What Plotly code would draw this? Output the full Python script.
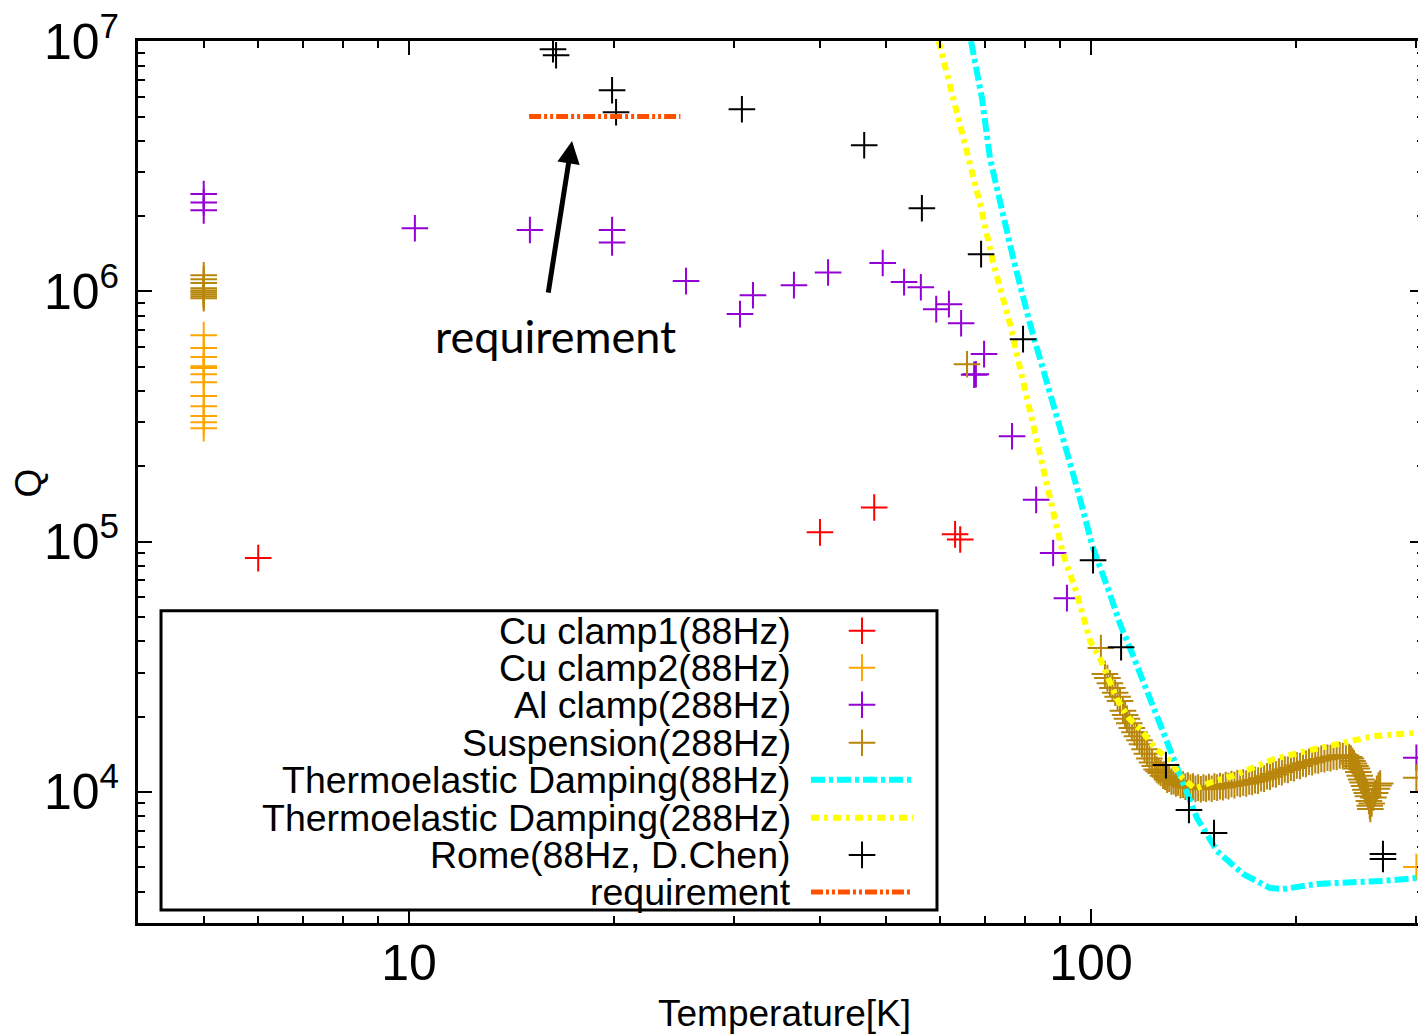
import plotly.graph_objects as go

# ---------------- data ----------------
cu1_T = [6.01, 40.05, 48.1, 63.2, 64.3]
cu1_Q = [8.60e4, 1.09e5, 1.37e5, 1.07e5, 1.02e5]

cu2_T = [5, 5, 5, 5, 5, 5, 5, 5, 5, 5, 5, 5, 300]
cu2_Q = [6.69e5, 5.94e5, 5.47e5, 5.03e5, 4.94e5, 4.67e5, 4.34e5, 3.82e5, 3.48e5,
         3.18e5, 3.00e5, 2.84e5, 5.01e3]

al_T = [5, 5, 5, 10.2, 15.04, 19.85, 19.85, 25.48, 30.57, 31.94, 36.68, 41.16, 49.5,
        53.2, 56.3, 59.3, 61.9, 64.5, 69.7, 67.8, 67.4, 76.6, 83.1, 88.0, 92.2, 300]
al_Q = [2.45e6, 2.27e6, 2.11e6, 1.79e6, 1.76e6, 1.76e6, 1.57e6, 1.10e6, 8.12e5, 9.66e5,
        1.06e6, 1.19e6, 1.30e6, 1.09e6, 1.04e6, 8.50e5, 8.90e5, 7.47e5, 5.62e5, 4.67e5,
        4.65e5, 2.64e5, 1.47e5, 9.01e4, 5.95e4, 1.37e4]

susp_T = [5, 5, 5, 5, 5, 5, 5, 5, 5, 65.8,
          103.4, 104.8, 105.7, 106.6, 107.5, 108.5, 109.4, 110.3, 111.4, 112.2,
          112.9, 113.8, 114.8, 115.8, 116.8, 117.8, 118.8, 119.8, 120.8, 121.8,
          122.9, 124.0, 124.8, 125.6, 126.5, 127.5, 128.4, 129.3, 130.2, 131.2,
          132.2, 133.2, 134.2, 135.3, 136.4, 137.5, 138.7, 139.9, 141.1, 142.3,
          143.6, 144.9, 146.2, 147.5, 148.9, 150.3, 151.7, 153.1, 154.6, 156.1,
          157.6, 159.1, 160.7, 162.3, 163.9, 165.5, 167.2, 168.9, 170.6, 172.3,
          174.0, 175.8, 177.6, 179.4, 181.2, 183.0, 184.8, 186.7, 188.6, 190.5,
          192.4, 194.4, 196.4, 198.4, 200.4, 202.5, 204.6, 206.7, 208.8, 211.0,
          213.2, 215.4, 217.6, 219.9, 222.2, 224.5, 226.8, 229.2, 231.6, 234.0,
          236.5, 239.0, 240.5, 241.8, 243.0, 244.2, 245.4, 246.6, 247.8, 249.0,
          250.2, 251.4, 252.6, 253.8, 254.8, 255.6, 256.3, 256.8, 258.0, 259.5,
          261.0, 262.5, 264.0, 265.5, 300]
susp_Q = [1.16e6, 1.12e6, 1.08e6, 1.03e6, 1.01e6, 9.94e5, 9.75e5, 9.57e5, 9.40e5, 5.12e5,
          37600, 29600, 28500, 27200, 26000, 24900, 24000, 23100, 21100, 20300,
          19600, 18800, 18000, 17300, 16700, 16100, 15500, 14800, 14200, 13600,
          13100, 12700, 12300, 12100, 11900, 11600, 11500, 11200, 11300, 11000,
          11050, 10800, 10900, 10650, 10700, 10500, 10600, 10400, 10500, 10300,
          10400, 10250, 10400, 10300, 10450, 10300, 10500, 10400, 10550, 10450,
          10650, 10550, 10750, 10650, 10850, 10750, 10900, 10800, 11000, 10950,
          11150, 11100, 11350, 11300, 11550, 11500, 11800, 11750, 12050, 12000,
          12300, 12250, 12500, 12450, 12750, 12700, 13000, 12950, 13200, 13150,
          13400, 13350, 13550, 13500, 13700, 13650, 13850, 13800, 14000, 13900,
          14000, 13800, 13600, 13300, 13000, 12700, 12400, 12000, 11600, 11200,
          10900, 10550, 10200, 9900, 9600, 9200, 8800, 8550, 9000, 9500,
          9900, 10300, 10600, 10800, 11400]

ted88_T = [66.7, 69.2, 71.1, 73.6, 76.9, 81.4, 85.1, 90.1, 95.4, 100.7, 106.6, 110.3,
           114.1, 120.8, 126.3, 130.6, 135.1, 139.7, 143.0, 153.0, 167.1, 183.0, 191.2,
           214.5, 239.8, 268.0, 300.0]
ted88_Q = [1.0e7, 5.92e6, 3.41e6, 2.23e6, 1.36e6, 7.40e5, 4.94e5, 2.84e5, 1.64e5, 9.43e4,
           6.18e4, 4.69e4, 3.76e4, 2.53e4, 1.87e4, 1.50e4, 1.18e4, 9.20e3, 7.87e3, 5.81e3,
           4.70e3, 4.13e3, 4.09e3, 4.29e3, 4.33e3, 4.41e3, 4.53e3]

ted288_T = [59.8, 62.8, 65.8, 68.8, 71.8, 76.1, 78.7, 83.3, 87.1, 91.0, 95.4, 99.7, 103.5,
            109.2, 113.7, 118.8, 124.1, 130.6, 136.0, 142.1, 151.0, 161.5, 172.8, 184.9,
            207.4, 231.8, 259.2, 296.6, 310.0]
ted288_Q = [1.0e7, 5.92e6, 3.41e6, 2.23e6, 1.32e6, 7.40e5, 4.94e5, 2.52e5, 1.45e5, 8.92e4,
            6.18e4, 4.01e4, 3.33e4, 2.35e4, 1.97e4, 1.75e4, 1.50e4, 1.33e4, 1.14e4, 1.03e4,
            1.10e4, 1.16e4, 1.25e4, 1.35e4, 1.46e4, 1.57e4, 1.67e4, 1.72e4, 1.75e4]

rome_T = [16.26, 16.43, 19.85, 20.12, 30.77, 46.5, 56.5, 69.0, 79.5, 100.7, 110.7, 128.8,
          139.2, 151.5, 268.0, 268.0]
rome_Q = [9.29e6, 8.79e6, 6.37e6, 5.20e6, 5.35e6, 3.84e6, 2.15e6, 1.41e6, 6.45e5, 8.44e4,
          3.79e4, 1.28e4, 8.47e3, 6.85e3, 5.65e3, 5.40e3]

req_T = [15.0, 25.0]
req_Q = [5.0e6, 5.0e6]

x_ticks = [10, 100]
x_ticktext = ["10", "100"]
y_ticks = [1e4, 1e5, 1e6, 1e7]
y_ticktext = ["10<sup>4</sup>", "10<sup>5</sup>", "10<sup>6</sup>", "10<sup>7</sup>"]
x_minor = [5, 6, 7, 8, 9, 20, 30, 40, 50, 60, 70, 80, 90, 200, 300]
y_minor = [3e3, 4e3, 5e3, 6e3, 7e3, 8e3, 9e3,
           2e4, 3e4, 4e4, 5e4, 6e4, 7e4, 8e4, 9e4,
           2e5, 3e5, 4e5, 5e5, 6e5, 7e5, 8e5, 9e5,
           2e6, 3e6, 4e6, 5e6, 6e6, 7e6, 8e6, 9e6]

X_RANGE = [0.6026, 2.4883]
Y_RANGE = [3.4762, 7.001]

# ---------------- styles ----------------
RED = "#ff0000"
ORANGE = "#ffa500"
PURPLE = "#9400d3"
BROWN = "#b8860b"
CYAN = "#00ffff"
YELLOW = "#ffff00"
REQ = "#ff5000"
FONT = "Liberation Sans, Arial, sans-serif"
MSIZE = 19
CYAN_DASH = "14px,4px,4px,4px"
YELLOW_DASH = "8px,5px,4px,5px"
REQ_DASH = "12px,3px,3px,3px,3px,3px"

fig = go.Figure()


def markers(x, y, color, name, xa="x", ya="y"):
    fig.add_trace(go.Scatter(
        x=x, y=y, mode="markers", name=name, showlegend=False, xaxis=xa, yaxis=ya,
        marker=dict(symbol="cross-thin", size=MSIZE, color=color,
                    line=dict(color=color, width=2))))


def line(x, y, color, dash, width, name, xa="x", ya="y"):
    fig.add_trace(go.Scatter(
        x=x, y=y, mode="lines", name=name, showlegend=False, xaxis=xa, yaxis=ya,
        line=dict(color=color, dash=dash, width=width)))


markers(cu1_T, cu1_Q, RED, "Cu clamp1(88Hz)")
markers(cu2_T, cu2_Q, ORANGE, "Cu clamp2(88Hz)")
markers(al_T, al_Q, PURPLE, "Al clamp(288Hz)")
markers(susp_T, susp_Q, BROWN, "Suspension(288Hz)")
line(ted88_T, ted88_Q, CYAN, CYAN_DASH, 6, "Thermoelastic Damping(88Hz)")
line(ted288_T, ted288_Q, YELLOW, YELLOW_DASH, 6, "Thermoelastic Damping(288Hz)")
markers(rome_T, rome_Q, "#000000", "Rome(88Hz, D.Chen)")
# requirement drawn on the identical overlay axes that carry the top/right minor ticks
line(req_T, req_Q, REQ, REQ_DASH, 5, "requirement", xa="x3", ya="y3")

# ---------------- hand-made legend (text left, sample right) ----------------
legend_items = [
    ("Cu clamp1(88Hz)", "m", RED, None, 0),
    ("Cu clamp2(88Hz)", "m", ORANGE, None, 0),
    ("Al clamp(288Hz)", "m", PURPLE, None, 0),
    ("Suspension(288Hz)", "m", BROWN, None, 0),
    ("Thermoelastic Damping(88Hz)", "l", CYAN, CYAN_DASH, 6),
    ("Thermoelastic Damping(288Hz)", "l", YELLOW, YELLOW_DASH, 6),
    ("Rome(88Hz, D.Chen)", "m", "#000000", None, 0),
    ("requirement", "l", REQ, REQ_DASH, 5),
]
row_y = [0.3314, 0.2895, 0.2474, 0.2043, 0.1623, 0.1192, 0.0772, 0.0352]
annotations = []
for (label, kind, color, dash, lw), yy in zip(legend_items, row_y):
    annotations.append(dict(x=0.5093, y=yy, xref="paper", yref="paper", text=label,
                            showarrow=False, xanchor="right", yanchor="middle",
                            font=dict(family=FONT, size=37.5, color="black")))
    if kind == "m":
        fig.add_trace(go.Scatter(x=[0.563], y=[yy], xaxis="x2", yaxis="y2", mode="markers",
                                 showlegend=False, cliponaxis=False, hoverinfo="skip",
                                 marker=dict(symbol="cross-thin", size=MSIZE, color=color,
                                             line=dict(color=color, width=2))))
    else:
        fig.add_trace(go.Scatter(x=[0.5233, 0.6026], y=[yy, yy], xaxis="x2", yaxis="y2",
                                 mode="lines", showlegend=False, cliponaxis=False,
                                 hoverinfo="skip",
                                 line=dict(color=color, dash=dash, width=lw)))

# arrow + "requirement" note
annotations.append(dict(x=0.3375, y=0.8865, xref="paper", yref="paper", ax=-24, ay=153,
                        axref="pixel", ayref="pixel", showarrow=True, arrowhead=2,
                        arrowsize=0.9, arrowwidth=5, arrowcolor="black", text=""))
annotations.append(dict(x=0.3243, y=0.6652, xref="paper", yref="paper", text="requirement",
                        showarrow=False, xanchor="center", yanchor="middle",
                        font=dict(family="Lato, Open Sans, sans-serif", size=45, color="black")))
# axis titles
annotations.append(dict(x=0.5025, y=-0.103, xref="paper", yref="paper", text="Temperature[K]",
                        showarrow=False, xanchor="center", yanchor="middle",
                        font=dict(family=FONT, size=37, color="black")))
annotations.append(dict(x=-0.0848, y=0.4994, xref="paper", yref="paper", text="Q",
                        showarrow=False, xanchor="center", yanchor="middle", textangle=-90,
                        font=dict(family=FONT, size=37, color="black")))

axis_common = dict(type="log", showgrid=False, zeroline=False, showline=True, linewidth=3,
                   linecolor="black", mirror="ticks", ticks="inside", ticklen=14,
                   tickwidth=2, tickcolor="black", automargin=False,
                   ticklabeloverflow="allow",
                   tickfont=dict(family=FONT, size=50, color="black"))
minor_x = dict(tickvals=x_minor, ticks="inside", ticklen=7, tickwidth=2, tickcolor="black")
minor_y = dict(tickvals=y_minor, ticks="inside", ticklen=7, tickwidth=2, tickcolor="black")

# the page body carries an 8px margin, so the margins are shifted by 8px
fig.update_layout(
    width=1426, height=1034, autosize=False,
    margin=dict(l=130, r=10, t=33, b=119),
    paper_bgcolor="white", plot_bgcolor="white",
    showlegend=False,
    xaxis=dict(range=X_RANGE, tickvals=x_ticks, ticktext=x_ticktext, minor=minor_x,
               ticklabelstandoff=-6, **axis_common),
    yaxis=dict(range=Y_RANGE, tickvals=y_ticks, ticktext=y_ticktext, minor=minor_y,
               ticklabelstandoff=6, **axis_common),
    xaxis2=dict(overlaying="x", anchor="y2", range=[0, 1], visible=False, fixedrange=True),
    yaxis2=dict(overlaying="y", anchor="x2", range=[0, 1], visible=False, fixedrange=True),
    xaxis3=dict(overlaying="x", anchor="y3", side="top", type="log", range=X_RANGE,
                tickvals=x_ticks, showticklabels=False, ticks="inside", ticklen=14,
                tickwidth=2, tickcolor="black", minor=minor_x, showgrid=False,
                zeroline=False, showline=False, automargin=False),
    yaxis3=dict(overlaying="y", anchor="x3", side="right", type="log", range=Y_RANGE,
                tickvals=y_ticks, showticklabels=False, ticks="inside", ticklen=14,
                tickwidth=2, tickcolor="black", minor=minor_y, showgrid=False,
                zeroline=False, showline=False, automargin=False),
    shapes=[dict(type="rect", xref="paper", yref="paper", x0=0.0179, x1=0.6213,
                 y0=0.01476, y1=0.3541, line=dict(color="black", width=3),
                 fillcolor="rgba(0,0,0,0)")],
    annotations=annotations,
)

fig.write_html("out.html")
